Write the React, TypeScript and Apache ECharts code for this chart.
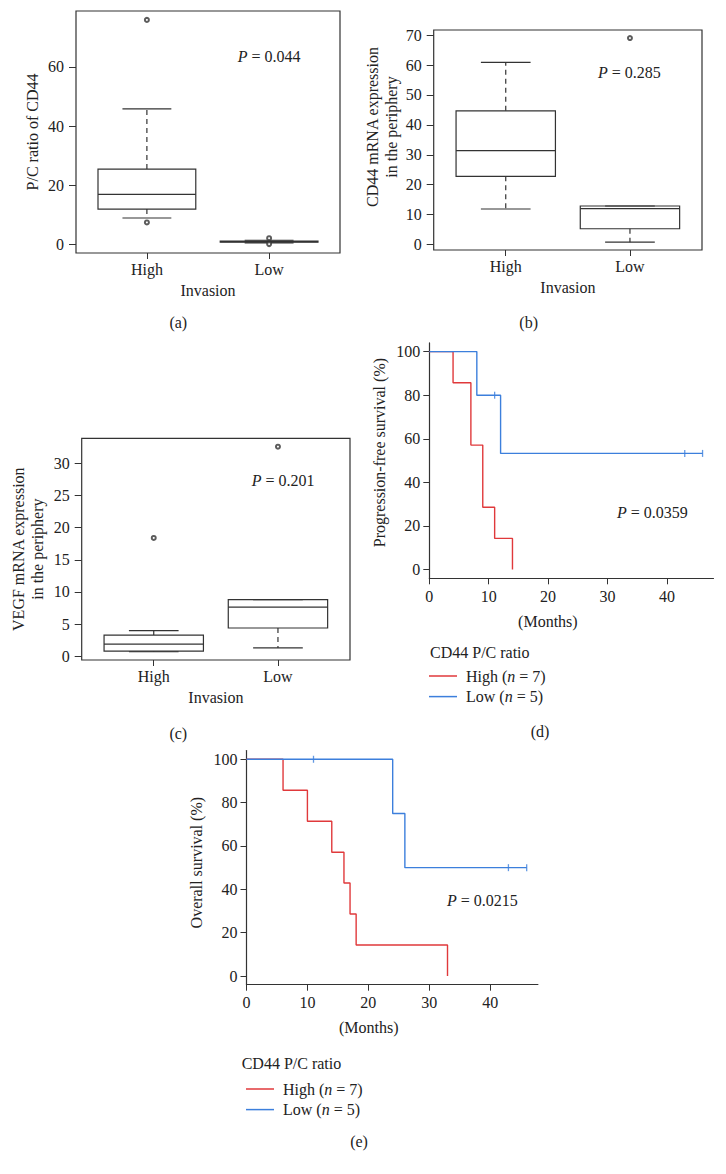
import React, { useEffect, useRef } from "react";
import * as echarts from "echarts";

// ---------- data ----------
const groups = ["High", "Low"];
const groupTicks = [1, 2];

// box stats: [position, lowerWhisker, Q1, median, Q3, upperWhisker]
const aBoxHigh = [1, 9.0, 12.0, 17.0, 25.5, 45.8];
const aBoxLow = [2, 0.6, 0.9, 1.0, 1.2, 1.5];
const aOutliers = [[1, 75.8], [1, 7.5], [2, 2.2], [2, 0.2]];
const aTicks = [0, 20, 40, 60];

const bBoxHigh = [1, 11.9, 22.8, 31.4, 44.7, 60.9];
const bBoxLow = [2, 0.8, 5.3, 12.0, 12.9, 12.9];
const bOutliers = [[2, 69.0]];
const bTicks = [0, 10, 20, 30, 40, 50, 60, 70];

const cBoxHigh = [1, 0.7, 0.8, 1.9, 3.3, 4.0];
const cBoxLow = [2, 1.3, 4.4, 7.65, 8.8, 8.8];
const cOutliers = [[1, 18.4], [2, 32.6]];
const cTicks = [0, 5, 10, 15, 20, 25, 30];

// Kaplan-Meier: [months, survival %]
const pfsHigh = [[0, 100], [4, 85.7], [7, 57.1], [9, 28.6], [11, 14.3], [14, 0]];
const pfsLow = [[0, 100], [8, 80], [12, 53.3], [46, 53.3]];
const pfsLowCensor = [[11, 80], [43, 53.3], [46, 53.3]];

const osHigh = [[0, 100], [6, 85.7], [10, 71.4], [14, 57.1], [16, 42.9], [17, 28.6], [18, 14.3], [33, 0]];
const osLow = [[0, 100], [24, 75], [26, 50], [46, 50]];
const osLowCensor = [[11, 100], [43, 50], [46, 50]];

const survTicks = [0, 20, 40, 60, 80, 100];
const monthTicks = [0, 10, 20, 30, 40];

const highName = "High (n = 7)";
const lowName = "Low (n = 5)";

// ---------- style ----------
const FONT = "'Liberation Serif', 'Times New Roman', serif";
const INK = "#222";
const FRAME = "#333";
const RED = "#e0393b";
const BLUE = "#3c7fdc";
const BOX_HALF = 0.4;
const CAP_HALF = 0.2;

function renderBox(params: any, api: any) {
  const x = api.value(0);
  const lo = api.value(1), q1 = api.value(2), med = api.value(3), q3 = api.value(4), hi = api.value(5);
  const c = (a: number, b: number) => api.coord([a, b]);
  const ln = (p1: number[], p2: number[], dash?: number[]) => ({
    type: "line",
    shape: { x1: p1[0], y1: p1[1], x2: p2[0], y2: p2[1] },
    style: dash ? { stroke: FRAME, lineWidth: 1.2, lineDash: dash } : { stroke: FRAME, lineWidth: 1.2 },
  });
  const tl = c(x - BOX_HALF, q3);
  const br = c(x + BOX_HALF, q1);
  return {
    type: "group",
    children: [
      ln(c(x, q3), c(x, hi), [5, 4]),
      ln(c(x, q1), c(x, lo), [5, 4]),
      ln(c(x - CAP_HALF, hi), c(x + CAP_HALF, hi)),
      ln(c(x - CAP_HALF, lo), c(x + CAP_HALF, lo)),
      {
        type: "rect",
        shape: { x: tl[0], y: tl[1], width: br[0] - tl[0], height: br[1] - tl[1] },
        style: { fill: "none", stroke: FRAME, lineWidth: 1.2 },
      },
      ln(c(x - BOX_HALF, med), c(x + BOX_HALF, med)),
    ],
  };
}

const labelStyle = { fontFamily: FONT, fontSize: 16, color: INK };

function boxX(gridIndex: number) {
  return {
    type: "value",
    gridIndex,
    min: 0.42,
    max: 2.58,
    name: "Invasion",
    nameLocation: "middle",
    nameGap: 29,
    nameTextStyle: { ...labelStyle },
    axisLine: { show: false, onZero: false },
    axisTick: { show: true, length: 6, customValues: groupTicks, lineStyle: { color: FRAME } },
    axisLabel: {
      ...labelStyle,
      margin: 8,
      customValues: groupTicks,
      formatter: (v: number) => groups[Math.round(v) - 1],
    },
    splitLine: { show: false },
  };
}

function boxY(gridIndex: number, min: number, max: number, ticks: number[], name: string, gap: number, lh?: number, shiftUp = 0) {
  return {
    type: "value",
    gridIndex,
    min,
    max,
    name,
    nameLocation: "middle",
    nameRotate: 90,
    nameGap: gap,
    nameTextStyle: {
      ...labelStyle,
      ...(lh ? { lineHeight: lh } : {}),
      padding: [0, 0, 0, shiftUp * 2],
    },
    axisLine: { show: false, onZero: false },
    axisTick: { show: true, length: 7, customValues: ticks, lineStyle: { color: FRAME } },
    axisLabel: { ...labelStyle, margin: 12, customValues: ticks },
    splitLine: { show: false },
  };
}

function kmX(gridIndex: number) {
  return {
    type: "value",
    gridIndex,
    min: 0,
    max: 47.84,
    name: "(Months)",
    nameLocation: "middle",
    nameGap: 35,
    nameTextStyle: { ...labelStyle, padding: [0, 47, 0, 0] },
    axisLine: { show: true, onZero: false, lineStyle: { color: FRAME, width: 1.2 } },
    axisTick: { show: true, length: 6, customValues: monthTicks, lineStyle: { color: FRAME } },
    axisLabel: { ...labelStyle, margin: 10, customValues: monthTicks },
    splitLine: { show: false },
  };
}

function kmY(gridIndex: number, name: string, gap: number, shiftUp: number) {
  return {
    type: "value",
    gridIndex,
    min: -4,
    max: 104,
    name,
    nameLocation: "middle",
    nameRotate: 90,
    nameGap: gap,
    nameTextStyle: { ...labelStyle, padding: [0, 0, 0, shiftUp * 2] },
    axisLine: { show: true, onZero: false, lineStyle: { color: FRAME, width: 1.2 } },
    axisTick: { show: true, length: 6, customValues: survTicks, lineStyle: { color: FRAME } },
    axisLabel: { ...labelStyle, margin: 9, customValues: survTicks },
    splitLine: { show: false },
  };
}

function boxSeries(idx: number, data: number[][], outliers: number[][]) {
  return [
    {
      type: "custom",
      xAxisIndex: idx,
      yAxisIndex: idx,
      renderItem: renderBox,
      encode: { x: 0, y: [1, 2, 3, 4, 5] },
      data,
      silent: true,
    },
    {
      type: "scatter",
      xAxisIndex: idx,
      yAxisIndex: idx,
      symbol: "emptyCircle",
      symbolSize: 4,
      itemStyle: { color: FRAME, borderWidth: 1 },
      data: outliers,
      silent: true,
    },
  ];
}

function kmSeries(idx: number, high: number[][], low: number[][], censor: number[][]) {
  return [
    {
      type: "line",
      name: highName,
      xAxisIndex: idx,
      yAxisIndex: idx,
      step: "end",
      symbol: "none",
      lineStyle: { color: RED, width: 1.4 },
      itemStyle: { color: RED },
      data: high,
      silent: true,
    },
    {
      type: "line",
      name: lowName,
      xAxisIndex: idx,
      yAxisIndex: idx,
      step: "end",
      symbol: "none",
      lineStyle: { color: BLUE, width: 1.4 },
      itemStyle: { color: BLUE },
      data: low,
      silent: true,
    },
    {
      type: "scatter",
      name: lowName + " censored",
      xAxisIndex: idx,
      yAxisIndex: idx,
      symbol: "rect",
      symbolSize: [1.3, 7],
      itemStyle: { color: BLUE },
      data: censor,
      silent: true,
    },
  ];
}

function legendAt(left: number, top: number) {
  return {
    orient: "vertical",
    left,
    top,
    padding: 0,
    icon: "rect",
    itemWidth: 28,
    itemHeight: 1.5,
    itemGap: 4.6,
    selectedMode: false,
    data: [highName, lowName],
    formatter: (name: string) => name.replace("n =", "{i|n} ="),
    textStyle: {
      ...labelStyle,
      padding: [0, 0, 0, 4],
      rich: { i: { ...labelStyle, fontStyle: "italic" } },
    },
  };
}

function pText(x: number, y: number, value: string) {
  return {
    type: "text",
    x,
    y,
    style: {
      text: "{i|P} = " + value,
      ...labelStyle,
      fill: INK,
      verticalAlign: "middle",
      align: "left",
      rich: { i: { fontFamily: FONT, fontSize: 16, fontStyle: "italic", fill: INK } },
    },
  };
}

function plainText(x: number, y: number, text: string, align: string) {
  return {
    type: "text",
    x,
    y,
    style: { text, fontFamily: FONT, fontSize: 16, fill: INK, align, verticalAlign: "middle" },
  };
}

export default function App() {
  const ref = useRef<HTMLDivElement>(null);
  useEffect(() => {
    if (!ref.current) return;
    const chart = echarts.init(ref.current, null, { renderer: "svg" });
    chart.setOption({
      animation: false,
      backgroundColor: "#fff",
      textStyle: { fontFamily: FONT },
      grid: [
        { left: 76, top: 11, width: 264, height: 242, show: true, borderColor: FRAME, borderWidth: 1.2 },
        { left: 433.7, top: 30, width: 268.3, height: 220, show: true, borderColor: FRAME, borderWidth: 1.2 },
        { left: 81.7, top: 438.3, width: 268.3, height: 221.7, show: true, borderColor: FRAME, borderWidth: 1.2 },
        { left: 429.3, top: 342.9, width: 284.2, height: 235.4 },
        { left: 246.5, top: 750.6, width: 291.4, height: 234.1 },
      ],
      xAxis: [boxX(0), boxX(1), boxX(2), kmX(3), kmX(4)],
      yAxis: [
        boxY(0, -2.8, 78.8, aTicks, "P/C ratio of CD44", 36),
        boxY(1, -1.8, 71.7, bTicks, "CD44 mRNA expression\nin the periphery", 33, 19, 13),
        boxY(2, -0.58, 33.9, cTicks, "VEGF mRNA expression\nin the periphery", 34.5, 19),
        kmY(3, "Progression-free survival (%)", 41.6, 8),
        kmY(4, "Overall survival (%)", 42, 5),
      ],
      legend: [legendAt(429, 668), legendAt(246, 1081)],
      series: [
        ...boxSeries(0, [aBoxHigh, aBoxLow], aOutliers),
        ...boxSeries(1, [bBoxHigh, bBoxLow], bOutliers),
        ...boxSeries(2, [cBoxHigh, cBoxLow], cOutliers),
        ...kmSeries(3, pfsHigh, pfsLow, pfsLowCensor),
        ...kmSeries(4, osHigh, osLow, osLowCensor),
      ],
      graphic: [
        pText(237.7, 56.7, "0.044"),
        pText(598, 72.3, "0.285"),
        pText(251.7, 480.7, "0.201"),
        pText(617, 512.7, "0.0359"),
        pText(447, 900, "0.0215"),
        plainText(430, 652.7, "CD44 P/C ratio", "left"),
        plainText(241.7, 1063, "CD44 P/C ratio", "left"),
        plainText(178.3, 322, "(a)", "center"),
        plainText(528.7, 322.7, "(b)", "center"),
        plainText(178.3, 733, "(c)", "center"),
        plainText(540, 731, "(d)", "center"),
        plainText(359, 1141.7, "(e)", "center"),
      ],
    });
    return () => chart.dispose();
  }, []);
  return (
    <div
      ref={ref}
      style={{ position: "absolute", left: 0, top: 0, width: 726, height: 1174, background: "#fff" }}
    />
  );
}
